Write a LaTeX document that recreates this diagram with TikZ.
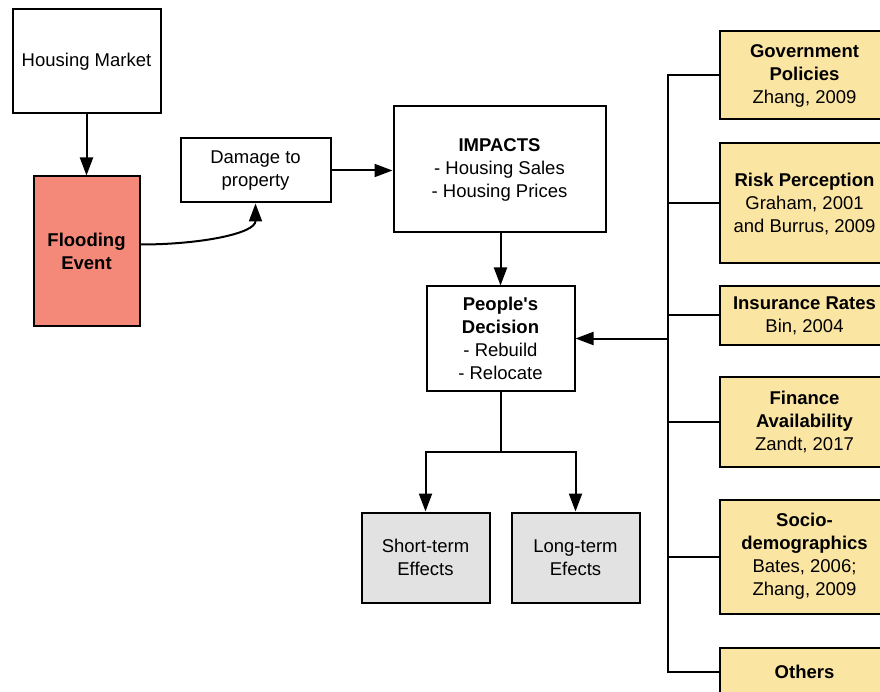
\documentclass[tikz,border=0pt]{standalone}
\usepackage{fontspec}
\setmainfont{Liberation Sans}
\usetikzlibrary{arrows.meta,positioning}

\definecolor{floodred}{HTML}{F4897A}
\definecolor{factoryellow}{HTML}{FBE5A3}
\definecolor{effectgray}{HTML}{E2E2E2}

\begin{document}
\begin{tikzpicture}[x=1pt,y=-1pt,>={Triangle[length=18pt,width=13pt]},
										font=\fontsize{18.5}{23}\selectfont]
	\tikzstyle{box}=[draw=black,align=center,inner sep=0pt,line width=2pt]
	\tikzstyle{factor}=[box,fill=factoryellow,minimum width=170pt]
	\tikzstyle{effect}=[box,fill=effectgray,minimum width=128pt,minimum height=90pt]
	\tikzstyle{link}=[line width=2pt]

	\useasboundingbox (-0.5,-0.5) rectangle (879.5,691.5);

	% left part
	\node[box,minimum width=148pt,minimum height=104pt] (market) at (86,61) {Housing Market};
	\node[box,fill=floodred,minimum width=106pt,minimum height=150pt,font=\fontsize{18.5}{23}\selectfont\bfseries]
				(flood) at (86,251) {Flooding\\Event};
	\node[box,minimum width=150pt,minimum height=64pt] (damage) at (255,170) {Damage to\\property};

	% middle
	\node[box,minimum width=212pt,minimum height=126pt] (impacts) at (499,169)
				{\textbf{IMPACTS}\\- Housing Sales\\- Housing Prices};
	\node[box,minimum width=148pt,minimum height=104pt] (decision) at (500,338)
				{\textbf{People\textquotesingle s}\\\textbf{Decision}\\- Rebuild\\- Relocate};
	\node[effect] (short) at (425,557) {Short-term\\Effects};
	\node[effect] (long)  at (575,557) {Long-term\\Efects};

	% factors
	\node[factor,minimum height=88pt]  (gov)     at (804,75)  {\textbf{Government}\\\textbf{Policies}\\Zhang, 2009};
	\node[factor,minimum height=120pt] (risk)    at (804,203) {\textbf{Risk Perception}\\Graham, 2001\\and Burrus, 2009};
	\node[factor,minimum height=58pt]  (ins)     at (804,315) {\textbf{Insurance Rates}\\Bin, 2004};
	\node[factor,minimum height=90pt]  (fin)     at (804,421) {\textbf{Finance}\\\textbf{Availability}\\Zandt, 2017};
	\node[factor,minimum height=114pt] (socio)   at (804,556) {\textbf{Socio-}\\\textbf{demographics}\\Bates, 2006;\\Zhang, 2009};
	\node[factor,minimum height=48pt]  (others)  at (804,671) {\textbf{Others}};

	\coordinate (jtop) at (667,75);
	\coordinate (jbot) at (667,671);

	\path[link,->] (market) edge (flood)
				([yshift=7pt]flood.east) edge [out=0,in=-90,out distance=60pt,in distance=30pt] (damage.south)
				(damage.east) edge (impacts.west |- damage.east)
				(impacts.south -| decision) edge (decision);

	\draw[link,->] (decision.south) -- ++(0,60) -| (short.north);
	\draw[link,->] (decision.south) -- ++(0,60) -| (long.north);

	\draw[link] (gov.west) -- (jtop) -- (jbot) -- (others.west);
	\foreach \f in {risk,ins,fin,socio}
		\draw[link] (\f.west) -- (\f.west -| jtop);
	\draw[link,->] (decision.east -| jtop) -- (decision.east);
\end{tikzpicture}
\end{document}
